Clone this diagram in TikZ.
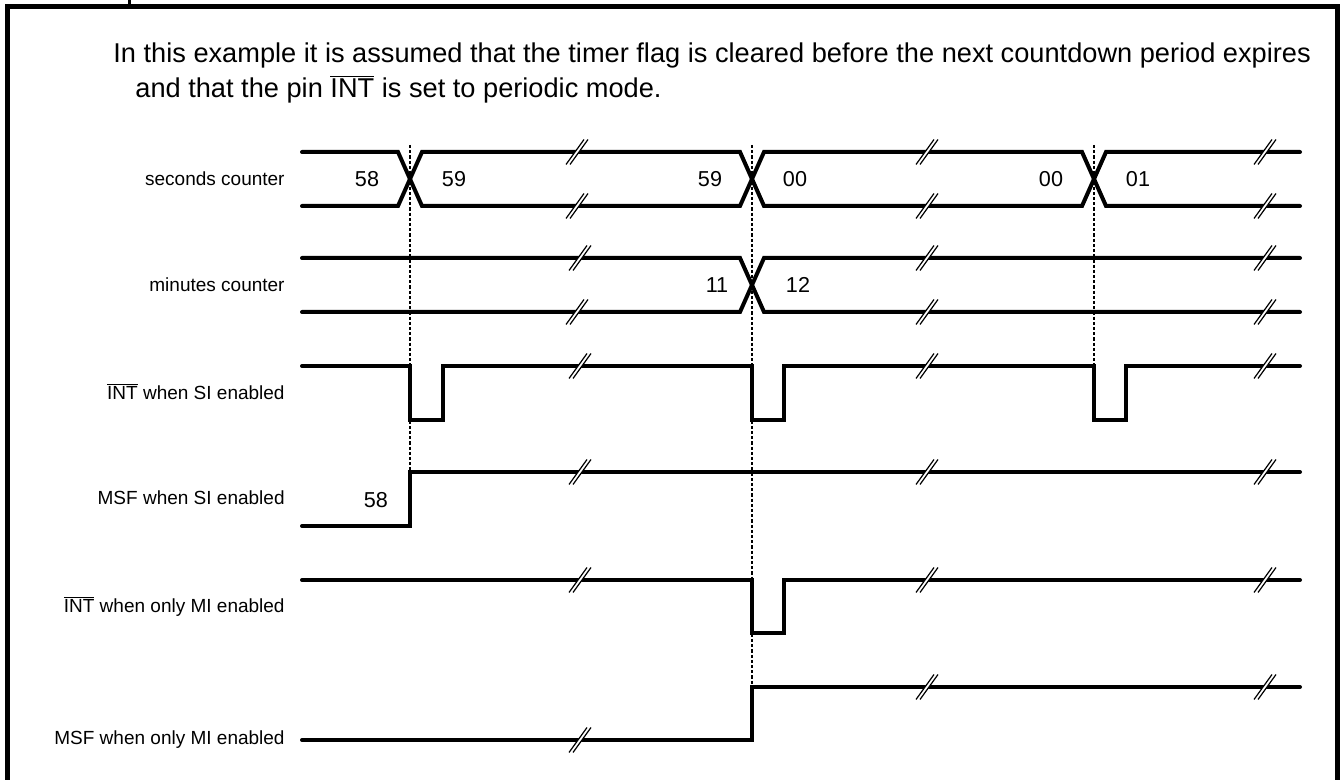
\documentclass[tikz,border=0pt]{standalone}
\usepackage{fontspec}
\setmainfont{Liberation Sans}
\newcommand{\barsig}[1]{$\overline{\mbox{#1}}$}

\begin{document}
\begin{tikzpicture}[x=0.5pt,y=-0.5pt]
	
	% ------------------------------------------------------------
	% Styles (plain black timing-diagram look)
	% ------------------------------------------------------------
	\tikzset{
		frame/.style={line width=2.5pt,line join=miter},
		sig/.style={line width=2pt,line cap=round,line join=miter},
		guide/.style={line width=1pt,dash pattern=on 1.6pt off 1pt},
		brkline/.style={line width=0.6pt},
		lbl/.style={anchor=base east,inner sep=0pt,font=\fontsize{9.5}{11}\selectfont},
		val/.style={anchor=base,inner sep=0pt,font=\fontsize{10.8}{13}\selectfont},
		note/.style={anchor=base west,inner sep=0pt,font=\fontsize{13.6}{16}\selectfont},
		brk/.pic={
			\fill[white] (-11,12.5) -- (7,-12.5) -- (11,-12.5) -- (-7,12.5) -- cycle;
			\draw[brkline] (-11,12.5) -- (7,-12.5) (-7,12.5) -- (11,-12.5);
		}
	}
	
	\useasboundingbox (0,0) rectangle (1340,780);
	
	% ============================================================
	% Frame and note
	% ============================================================
	\draw[frame] (7.5,800) -- (7.5,6.5) -- (1337,6.5) -- (1337,800);
	\draw[line width=1.5pt] (129.5,0) -- (129.5,6);
	
	\node[note] (note1) at (113,63)
	{In this example it is assumed that the timer flag is cleared before the next countdown period expires};
	\node[note] (note2) at (135,98)
	{and that the pin \barsig{INT} is set to periodic mode.};
	
	% ============================================================
	% Signal names
	% ============================================================
	\node[lbl] (nSec)   at (285,186) {seconds counter};
	\node[lbl] (nMin)   at (285,292) {minutes counter};
	\node[lbl] (nIntSI) at (285,400) {\barsig{INT} when SI enabled};
	\node[lbl] (nMsfSI) at (285,505) {MSF when SI enabled};
	\node[lbl] (nIntMI) at (285,613) {\barsig{INT} when only MI enabled};
	\node[lbl] (nMsfMI) at (285,745) {MSF when only MI enabled};
	
	% ============================================================
	% Dotted guides at the three second ticks
	% ============================================================
	\draw[guide] (410,145) -- (410,472);
	\draw[guide] (752,145) -- (752,687);
	\draw[guide] (1094,145) -- (1094,366);
	
	% ============================================================
	% Waveforms
	% ============================================================
	% seconds counter (bus)
	\draw[sig] (302,152) -- (398,152) -- (422,206) -- (740,206) -- (764,152) -- (1082,152) -- (1106,206) -- (1300,206);
	\draw[sig] (302,206) -- (398,206) -- (422,152) -- (740,152) -- (764,206) -- (1082,206) -- (1106,152) -- (1300,152);
	
	% minutes counter (bus)
	\draw[sig] (302,258) -- (740,258) -- (764,312) -- (1300,312);
	\draw[sig] (302,312) -- (740,312) -- (764,258) -- (1300,258);
	
	% INT when SI enabled: one pulse per second
	\draw[sig] (302,366) -- (410,366) -- (410,420) -- (443,420) -- (443,366)
	-- (752,366) -- (752,420) -- (784,420) -- (784,366)
	-- (1094,366) -- (1094,420) -- (1126,420) -- (1126,366) -- (1300,366);
	
	% MSF when SI enabled
	\draw[sig] (302,526) -- (410,526) -- (410,472) -- (1300,472);
	
	% INT when only MI enabled: one pulse per minute
	\draw[sig] (302,580) -- (752,580) -- (752,633) -- (784,633) -- (784,580) -- (1300,580);
	
	% MSF when only MI enabled
	\draw[sig] (302,740) -- (752,740) -- (752,687) -- (1300,687);
	
	% Bus values
	\node[val] (s58)  at (367,187)  {58};
	\node[val] (s59a) at (454,187)  {59};
	\node[val] (s59b) at (710,187)  {59};
	\node[val] (s00a) at (795,187)  {00};
	\node[val] (s00b) at (1051,187) {00};
	\node[val] (s01)  at (1138,187) {01};
	\node[val] (m11)  at (717,293)  {11};
	\node[val] (m12)  at (798,293)  {12};
	\node[val] (f58)  at (376,508)  {58};
	
	% ============================================================
	% Time breaks (//)
	% ============================================================
	\pic at (577,152) {brk};  \pic at (927,152) {brk};  \pic at (1265,152) {brk};
	\pic at (577,206) {brk};  \pic at (927,206) {brk};  \pic at (1265,206) {brk};
	\pic at (580,258) {brk};  \pic at (927,258) {brk};  \pic at (1265,258) {brk};
	\pic at (577,312) {brk};  \pic at (927,312) {brk};  \pic at (1265,312) {brk};
	\pic at (580,366) {brk};  \pic at (927,366) {brk};  \pic at (1265,366) {brk};
	\pic at (580,472) {brk};  \pic at (927,472) {brk};  \pic at (1265,472) {brk};
	\pic at (580,580) {brk};  \pic at (927,580) {brk};  \pic at (1265,580) {brk};
	\pic at (580,740) {brk};  \pic at (927,687) {brk};  \pic at (1265,687) {brk};
	
\end{tikzpicture}
\end{document}
